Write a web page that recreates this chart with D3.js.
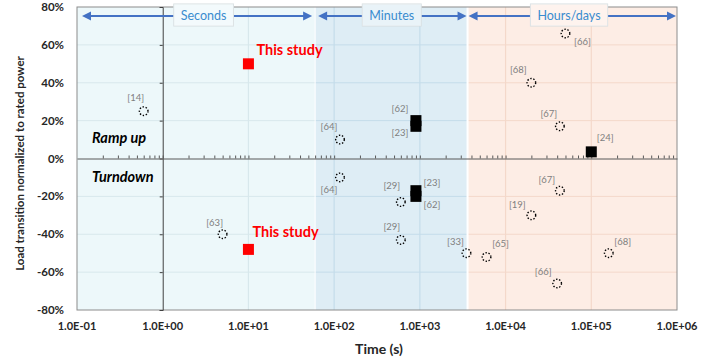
<!DOCTYPE html>
<html>
<head>
<meta charset="utf-8">
<script src="https://cdn.jsdelivr.net/npm/d3@7"></script>
<style>
  body { margin: 0; background: #fff; }
  svg { font-family: Lato, "Open Sans", sans-serif; }
</style>
</head>
<body>
<div id="chart"></div>
<script>
// time regions (s)
const regionNames = ["Seconds", "Minutes", "Hours/days"];
const regionStart = [0.1, 60, 3600];
const regionEnd = [60, 3600, 1e6];
const regionLabelAt = [3, 470, 55000];

// literature, dotted circles
const rampCircleRef = ["[14]", "[64]", "[68]", "[67]", "[66]"];
const rampCircleTime = [0.6, 117, 20000, 43000, 50000];
const rampCircleValue = [0.25, 0.10, 0.40, 0.17, 0.66];

const turnCircleRef = ["[64]", "[63]", "[29]", "[29]", "[33]", "[65]", "[67]", "[19]", "[68]", "[66]"];
const turnCircleTime = [117, 5, 600, 600, 3500, 6000, 43000, 20000, 160000, 40000];
const turnCircleValue = [-0.10, -0.40, -0.23, -0.43, -0.50, -0.52, -0.17, -0.30, -0.50, -0.66];

// literature, black squares
const rampSquareRef = ["[62]", "[23]", "[24]"];
const rampSquareTime = [900, 900, 1e5];
const rampSquareValue = [0.20, 0.17, 0.035];

const turnSquareRef = ["[23]", "[62]"];
const turnSquareTime = [900, 900];
const turnSquareValue = [-0.17, -0.20];

// this study
const studyTime = [10, 10];
const studyValue = [0.50, -0.48];

const yTicks = [-0.8, -0.6, -0.4, -0.2, 0, 0.2, 0.4, 0.6, 0.8];
const xTicks = [0.1, 1, 10, 100, 1000, 1e4, 1e5, 1e6];

// label placement (px from the marker)
const rampCircleLabelOff = [[-8, -13], [-11, -13], [-13, -13], [-11, -13], [17, 8]];
const turnCircleLabelOff = [[-11, 12], [-8, -12], [-9, -16], [-9, -13], [-11, -12], [14, -13], [-13, -11], [-14, -11], [14, -12], [-14, -12]];
const rampSquareLabelOff = [[-16, -12], [-16, 6], [14, -14]];
const turnSquareLabelOff = [[16, -8], [16, 8]];

const W = 705, H = 361;
const margin = {top: 7, right: 28, bottom: 51, left: 77};

const svg = d3.select("#chart").append("svg")
    .attr("width", W).attr("height", H);

const x = d3.scaleLog().domain([0.1, 1e6]).range([margin.left, W - margin.right]);
const y = d3.scaleLinear().domain([-0.8, 0.8]).range([H - margin.bottom, margin.top]);

const regionFill = ["#edf8fa", "#deedf5", "#fdede5"];
const regionGrid = ["#d8e8ec", "#c4dcea", "#f4d8ca"];

// background regions
svg.selectAll("rect.region")
    .data(regionNames)
    .enter().append("rect")
    .attr("x", (d, i) => x(regionStart[i]))
    .attr("y", y(0.8))
    .attr("width", (d, i) => x(regionEnd[i]) - x(regionStart[i]))
    .attr("height", y(-0.8) - y(0.8))
    .attr("fill", (d, i) => regionFill[i]);

// gridlines per region
regionNames.forEach((name, i) => {
  const x0 = x(regionStart[i]), x1 = x(regionEnd[i]);
  svg.append("g").selectAll("line")
      .data(yTicks.filter(t => t !== 0 && Math.abs(t) !== 0.8))
      .enter().append("line")
      .attr("x1", x0).attr("x2", x1)
      .attr("y1", d => y(d)).attr("y2", d => y(d))
      .attr("stroke", regionGrid[i]).attr("stroke-width", 1);
  svg.append("g").selectAll("line")
      .data(xTicks.filter(t => t > regionStart[i] && t < regionEnd[i] && t !== 1))
      .enter().append("line")
      .attr("x1", d => x(d)).attr("x2", d => x(d))
      .attr("y1", y(0.8)).attr("y2", y(-0.8))
      .attr("stroke", regionGrid[i]).attr("stroke-width", 1.2);
});

// white separators between regions
svg.selectAll("line.sep")
    .data([60, 3600])
    .enter().append("line")
    .attr("x1", d => x(d)).attr("x2", d => x(d))
    .attr("y1", y(0.8)).attr("y2", y(-0.8))
    .attr("stroke", "#fff").attr("stroke-width", (d, i) => i === 0 ? 1 : 2);

// plot frame
svg.append("rect")
    .attr("x", x(0.1)).attr("y", y(0.8))
    .attr("width", x(1e6) - x(0.1)).attr("height", y(-0.8) - y(0.8))
    .attr("fill", "none").attr("stroke", "#8c8c8c").attr("stroke-width", 1);

// y axis crossing at t = 1 s
svg.append("g")
    .attr("transform", `translate(${x(1)},0)`)
    .call(d3.axisLeft(y).tickValues(yTicks).tickSize(3).tickFormat(""))
    .call(g => g.select(".domain").attr("stroke", "#404040"))
    .call(g => g.selectAll(".tick line").attr("stroke", "#404040"));

// x axis at 0 with log minor ticks
const minorTicks = x.ticks().filter(t => t > 0.1 && t < 1e6);
svg.append("g")
    .attr("transform", `translate(0,${y(0)})`)
    .call(d3.axisTop(x).tickValues(minorTicks).tickSize(3).tickFormat("").tickSizeOuter(0))
    .call(g => g.select(".domain").attr("stroke", "#595959"))
    .call(g => g.selectAll(".tick line").attr("stroke", "#595959"));

// y tick labels
svg.append("g").selectAll("text")
    .data(yTicks)
    .enter().append("text")
    .attr("x", margin.left - 13)
    .attr("y", d => y(d))
    .attr("dy", "0.35em")
    .attr("text-anchor", "end")
    .attr("font-size", 11.5).attr("font-weight", "bold").attr("fill", "#262626")
    .text(d => d3.format(".0%")(d).replace("−", "-"));

// x tick labels
svg.append("g").selectAll("text")
    .data(xTicks)
    .enter().append("text")
    .attr("x", d => x(d))
    .attr("y", H - margin.bottom + 20)
    .attr("text-anchor", "middle")
    .attr("font-size", 11).attr("font-weight", "bold").attr("fill", "#262626")
    .text(d => {
      const e = Math.round(Math.log10(d));
      return "1.0E" + (e < 0 ? "-" : "+") + String(Math.abs(e)).padStart(2, "0");
    });

// axis titles
svg.append("text")
    .attr("x", (x(0.1) + x(1e6)) / 2 + 2)
    .attr("y", H - 7)
    .attr("text-anchor", "middle")
    .attr("font-size", 14).attr("font-weight", "bold").attr("fill", "#262626")
    .text("Time (s)");

svg.append("text")
    .attr("transform", `translate(24,${y(0) + 5}) rotate(-90)`)
    .attr("text-anchor", "middle")
    .attr("font-size", 11.5).attr("font-weight", "bold").attr("fill", "#262626")
    .text("Load transition normalized to rated power");

// region arrows and labels
const arrowY = 16, arrowBlue = "#4472c4";
const arrowInset = [[5, 3], [3, 1], [1, 1]];
regionNames.forEach((name, i) => {
  const x0 = x(regionStart[i]) + arrowInset[i][0];
  const x1 = x(regionEnd[i]) - arrowInset[i][1];
  const g = svg.append("g");
  g.append("line")
      .attr("x1", x0 + 6).attr("x2", x1 - 6)
      .attr("y1", arrowY).attr("y2", arrowY)
      .attr("stroke", arrowBlue).attr("stroke-width", 2);
  g.append("path")
      .attr("d", `M${x0},${arrowY} l9,-4.5 l0,9 Z`)
      .attr("fill", arrowBlue);
  g.append("path")
      .attr("d", `M${x1},${arrowY} l-9,-4.5 l0,9 Z`)
      .attr("fill", arrowBlue);
  const cx = x(regionLabelAt[i]);
  const label = g.append("text")
      .attr("x", cx).attr("y", arrowY)
      .attr("dy", "0.35em")
      .attr("text-anchor", "middle")
      .attr("font-size", 12.5).attr("fill", "#3a8ccf")
      .text(name);
  const bb = label.node().getBBox();
  g.insert("rect", "text")
      .attr("x", bb.x - 7).attr("y", 4)
      .attr("width", bb.width + 14).attr("height", 22)
      .attr("fill", regionFill[i])
      .attr("stroke", "#d6dde0").attr("stroke-width", 1);
  g.insert("rect", "text")
      .attr("x", bb.x - 7).attr("y", 4)
      .attr("width", bb.width + 14).attr("height", 22)
      .attr("fill", "#fff").attr("fill-opacity", 0.35);
});

// section titles
svg.append("text")
    .attr("x", margin.left + 15).attr("y", y(0.11))
    .attr("dy", "0.35em")
    .attr("font-size", 14.5).attr("font-weight", "bold").attr("font-style", "italic")
    .attr("fill", "#000")
    .text("Ramp up");
svg.append("text")
    .attr("x", margin.left + 15).attr("y", y(-0.095))
    .attr("dy", "0.35em")
    .attr("font-size", 14.5).attr("font-weight", "bold").attr("font-style", "italic")
    .attr("fill", "#000")
    .text("Turndown");

// markers
function drawCircles(times, values, refs, offs) {
  const g = svg.append("g");
  g.selectAll("circle")
      .data(times)
      .enter().append("circle")
      .attr("cx", d => x(d))
      .attr("cy", (d, i) => y(values[i]))
      .attr("r", 4.3)
      .attr("fill", "none")
      .attr("stroke", "#000").attr("stroke-width", 1.4)
      .attr("stroke-dasharray", "1.4,1.7");
  drawRefs(g, times, values, refs, offs);
}

function drawSquares(times, values, refs, offs, color, size) {
  const g = svg.append("g");
  g.selectAll("rect")
      .data(times)
      .enter().append("rect")
      .attr("x", d => x(d) - size / 2)
      .attr("y", (d, i) => y(values[i]) - size / 2)
      .attr("width", size).attr("height", size)
      .attr("fill", color);
  if (refs) drawRefs(g, times, values, refs, offs);
}

function drawRefs(g, times, values, refs, offs) {
  g.selectAll("text")
      .data(refs)
      .enter().append("text")
      .attr("x", (d, i) => x(times[i]) + offs[i][0])
      .attr("y", (d, i) => y(values[i]) + offs[i][1])
      .attr("dy", "0.35em")
      .attr("text-anchor", "middle")
      .attr("font-size", 9.5).attr("fill", "#7f7f7f")
      .text(d => d);
}

drawCircles(rampCircleTime, rampCircleValue, rampCircleRef, rampCircleLabelOff);
drawCircles(turnCircleTime, turnCircleValue, turnCircleRef, turnCircleLabelOff);
drawSquares(rampSquareTime, rampSquareValue, rampSquareRef, rampSquareLabelOff, "#000", 11);
drawSquares(turnSquareTime, turnSquareValue, turnSquareRef, turnSquareLabelOff, "#000", 11);
drawSquares(studyTime, studyValue, null, null, "#ff0000", 11);

// "This study" labels
const studyLabelOff = [[8, -14], [4, -17]];
svg.append("g").selectAll("text")
    .data(studyTime)
    .enter().append("text")
    .attr("x", (d, i) => x(d) + studyLabelOff[i][0])
    .attr("y", (d, i) => y(studyValue[i]) + studyLabelOff[i][1])
    .attr("dy", "0.35em")
    .attr("font-size", 14.5).attr("font-weight", "bold").attr("fill", "#ff0000")
    .text("This study");
</script>
</body>
</html>
